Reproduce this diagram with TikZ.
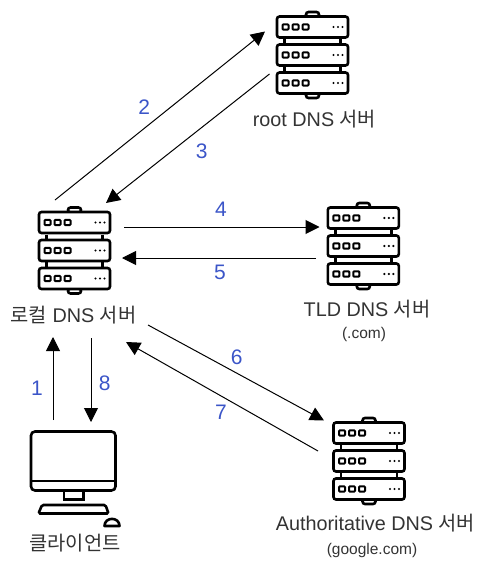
\documentclass[tikz,border=0pt]{standalone}
\usepackage{fontspec}
\setmainfont{Liberation Sans}
\newfontfamily\cjk{Noto Sans CJK KR}
\usetikzlibrary{arrows.meta}
\definecolor{numblue}{HTML}{3B55C8}
\definecolor{txtgray}{HTML}{333333}
\tikzset{x=1pt,y=-1pt,
 unit/.style={draw=black,line width=2.6pt,rounded corners=2.5pt,fill=white},
 link/.style={draw=black,line width=1pt,-{Triangle[length=14pt,width=14pt]}},
 num/.style={text=numblue,font=\fontsize{21}{24}\selectfont,inner sep=0pt,anchor=base},
 lab/.style={text=txtgray,font=\fontsize{19.8}{22}\selectfont,inner sep=0pt,align=center,anchor=base},
 sub/.style={text=txtgray,font=\fontsize{15.5}{18}\selectfont,inner sep=0pt,anchor=base},
 server/.pic={
  \draw[unit] (-6.5,-43) rectangle (6.5,-38);
  \draw[unit] (-6.5,38) rectangle (6.5,43);
  \draw[line width=2.6pt] (-28,-16) -- (-28,18) (28,-16) -- (28,18);
  \foreach \yy in {-28,0,28}{
   \draw[unit] (-35.5,\yy-10.5) rectangle (35.5,\yy+10.5);
   \foreach \xx in {-27,-17,-7}
     \draw[black,line width=2pt,rounded corners=0.8pt] (\xx-3,\yy-2.6) rectangle (\xx+3,\yy+2.6);
   \foreach \xx in {21,25.5,30}
     \fill[black] (\xx,\yy) circle (1.2pt);
  }
 }
}
\begin{document}
\begin{tikzpicture}
\useasboundingbox (0,0) rectangle (487,567);
% servers
\pic at (312.5,55) {server};
\pic at (74.5,250.5) {server};
\pic at (363.3,246) {server};
\pic at (369,461) {server};
% client
\draw[unit,rounded corners=4pt] (31,431.5) rectangle (115.5,490.5);
\draw[line width=2.6pt] (31,481) -- (115.5,481);
\draw[line width=2.6pt] (64,490.5) -- (64,499.5) -- (83.5,499.5) -- (83.5,490.5);
\draw[unit,rounded corners=1.5pt] (42,505) -- (105.5,505) -- (108.5,513.5) -- (38.5,513.5) -- cycle;
\draw[line width=2.6pt,fill=white,line join=round] (104.5,526) .. controls (104.5,516.5) and (119.5,516.5) .. (119.5,526) -- cycle;
% labels
\node[lab] (tRoot) at (314.5,126) {root DNS {\cjk 서버}};
\node[lab] (tLocal) at (73.5,322) {{\cjk 로컬} DNS {\cjk 서버}};
\node[lab] (tTld) at (367,316.7) {TLD DNS {\cjk 서버}};
\node[sub] (tCom) at (364,338.5) {(.com)};
\node[lab] (tAuth) at (375.5,530.7) {Authoritative DNS {\cjk 서버}};
\node[sub] (tGoogle) at (372,554.5) {(google.com)};
\node[lab] (tClient) at (75,550) {{\cjk 클라이언트}};
% arrow endpoints
\coordinate (a2s) at (55,200);  \coordinate (a2e) at (265,31.5);
\coordinate (a3s) at (269.5,74);  \coordinate (a3e) at (106,203);
\coordinate (a4s) at (124,227); \coordinate (a4e) at (319.5,227);
\coordinate (a5s) at (316,258); \coordinate (a5e) at (122,258);
\coordinate (a6s) at (148,325); \coordinate (a6e) at (324,420.5);
\coordinate (a7s) at (318,451); \coordinate (a7e) at (126,342);
\coordinate (a1s) at (53,420);  \coordinate (a1e) at (53,337);
\coordinate (a8s) at (91,338);  \coordinate (a8e) at (91,422);
\draw[link] (a2s) -- (a2e);
\draw[link] (a3s) -- (a3e);
\draw[link] (a4s) -- (a4e);
\draw[link] (a5s) -- (a5e);
\draw[link] (a6s) -- (a6e);
\draw[link] (a7s) -- (a7e);
\draw[link] (a1s) -- (a1e);
\draw[link] (a8s) -- (a8e);
% numbers
\node[num] (n1) at (37,395.7) {1};
\node[num] (n2) at (144.3,114) {2};
\node[num] (n3) at (201.7,158) {3};
\node[num] (n4) at (221,216.7) {4};
\node[num] (n5) at (220,279.3) {5};
\node[num] (n6) at (236.7,364) {6};
\node[num] (n7) at (221,419.3) {7};
\node[num] (n8) at (104.7,390.7) {8};
\end{tikzpicture}
\end{document}
